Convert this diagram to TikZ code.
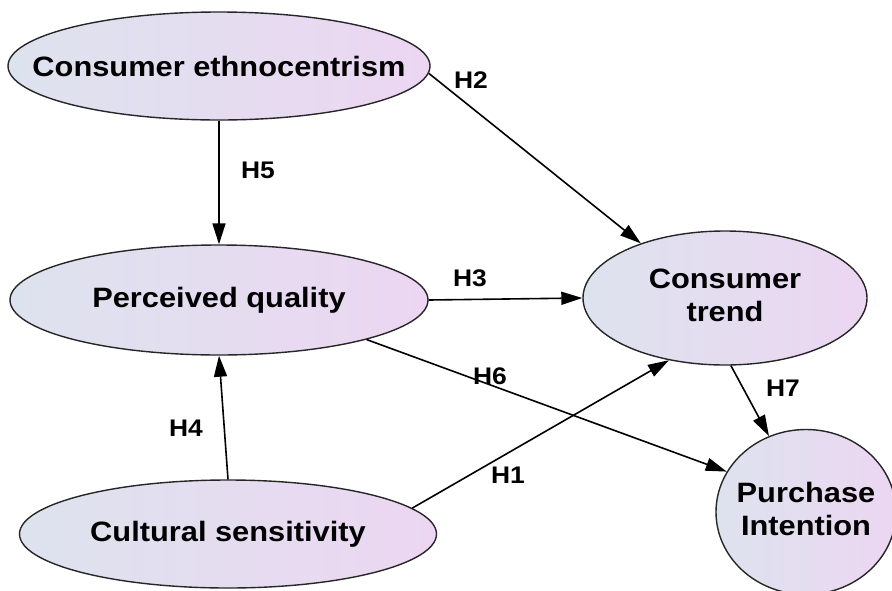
\documentclass[tikz,border=0pt]{standalone}
\usepackage{fontspec}
\setmainfont{Liberation Sans}[FakeStretch=1.1]
\usetikzlibrary{positioning, arrows.meta, shapes.geometric}

\definecolor{shadeleft}{RGB}{221,227,238}
\definecolor{shaderight}{RGB}{236,214,242}

\begin{document}
\begin{tikzpicture}[
    x=1pt, y=-1pt,
    >=Stealth,
    latent/.style={
        ellipse,
        draw=black!85,
        line width=1.4pt,
        left color=shadeleft,
        right color=shaderight,
        inner sep=0pt,
        font=\bfseries\fontsize{28}{33}\selectfont
    },
    hyp/.style={
        font=\bfseries\fontsize{24}{26}\selectfont,
        inner sep=1pt
    },
    arrow/.style={-{Triangle[length=21pt,width=13pt]}, line width=1.6pt}
]
\useasboundingbox (0,0) rectangle (892,590);

% Constructs
\node[latent, minimum width=422pt, minimum height=108pt] (ce) at (219,66)
    {\makebox[0pt]{Consumer ethnocentrism}};
\node[latent, minimum width=418pt, minimum height=110pt] (pq) at (219,300)
    {\makebox[0pt]{Perceived quality}};
\node[latent, minimum width=417pt, minimum height=108pt] (cs) at (228,534)
    {\makebox[0pt]{Cultural sensitivity}};
\node[latent, minimum width=284pt, minimum height=134pt] (ct) at (725,298)
    {\makebox[0pt]{\begin{tabular}{@{}c@{}}Consumer\\trend\end{tabular}}};
\node[latent, minimum width=180pt, minimum height=165pt] (pi) at (806,512)
    {\makebox[0pt]{\begin{tabular}{@{}c@{}}Purchase\\Intention\end{tabular}}};

% Hypotheses
\node[hyp] (h2) at (471,80) {H2};
\node[hyp] (h5) at (258,170) {H5};
\node[hyp] (h3) at (470,278) {H3};
\node[hyp] (h6) at (490,376) {H6};
\node[hyp] (h4) at (186,428) {H4};
\node[hyp] (h1) at (508,475) {H1};
\node[hyp] (h7) at (783,388) {H7};

% Paths
\draw[arrow] (ce.-2) -- (ct.147);
\draw[arrow] (ce.south) -- (pq.north);
\draw[arrow] (pq.east) -- (ct.west);
\draw[arrow] (pq.-15) -- (pi.153);
\draw[arrow] (cs.north) -- (pq.south);
\draw[arrow] (cs.8) -- (ct.228);
\draw[arrow] (ct.-85) -- (pi.116);

\end{tikzpicture}
\end{document}
